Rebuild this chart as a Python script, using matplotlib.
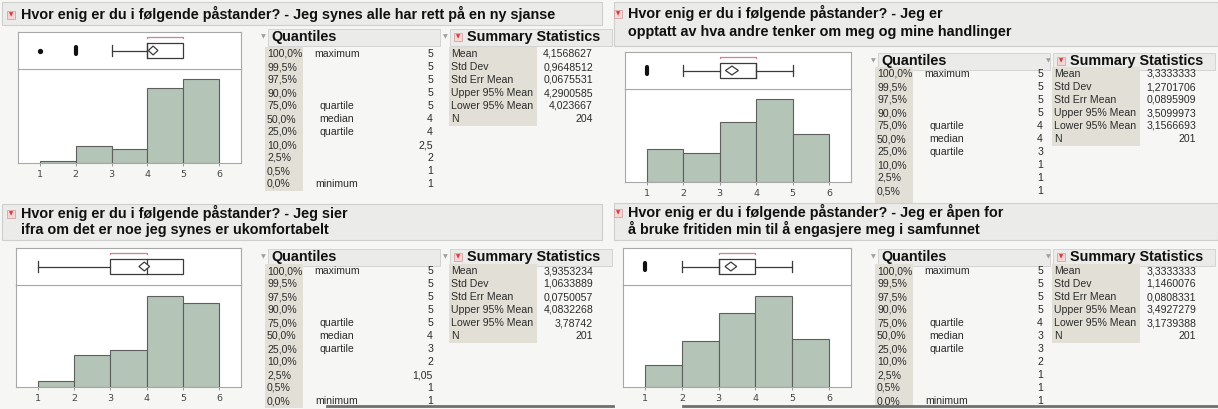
import matplotlib.pyplot as plt
from matplotlib.patches import Rectangle, Polygon

# ---- data ----
titles = [
    "Hvor enig er du i følgende påstander? - Jeg synes alle har rett på en ny sjanse",
    "Hvor enig er du i følgende påstander? - Jeg er\nopptatt av hva andre tenker om meg og mine handlinger",
    "Hvor enig er du i følgende påstander? - Jeg sier\nifra om det er noe jeg synes er ukomfortabelt",
    "Hvor enig er du i følgende påstander? - Jeg er åpen for\nå bruke fritiden min til å engasjere meg i samfunnet",
]
bin_edges = [1, 2, 3, 4, 5, 6]
counts_1 = [2, 18, 15, 80, 89]
counts_2 = [26, 23, 48, 66, 38]
counts_3 = [5, 26, 30, 73, 67]
counts_4 = [16, 33, 53, 65, 34]

pct_labels = ['100,0%', '99,5%', '97,5%', '90,0%', '75,0%', '50,0%',
              '25,0%', '10,0%', '2,5%', '0,5%', '0,0%']
q_names = ['maximum', '', '', '', 'quartile', 'median', 'quartile', '', '', '', 'minimum']
quant_1 = ['5', '5', '5', '5', '5', '4', '4', '2,5', '2', '1', '1']
quant_2 = ['5', '5', '5', '5', '4', '4', '3', '1', '1', '1', '1']
quant_3 = ['5', '5', '5', '5', '5', '4', '3', '2', '1,05', '1', '1']
quant_4 = ['5', '5', '5', '5', '4', '3', '3', '2', '1', '1', '1']

stat_names = ['Mean', 'Std Dev', 'Std Err Mean', 'Upper 95% Mean', 'Lower 95% Mean', 'N']
stats_1 = ['4,1568627', '0,9648512', '0,0675531', '4,2900585', '4,023667', '204']
stats_2 = ['3,3333333', '1,2701706', '0,0895909', '3,5099973', '3,1566693', '201']
stats_3 = ['3,9353234', '1,0633889', '0,0750057', '4,0832268', '3,78742', '201']
stats_4 = ['3,3333333', '1,1460076', '0,0808331', '3,4927279', '3,1739388', '201']

# shortest half (red bracket)
short_half = [(4, 5), (3, 4), (3, 4), (3, 4)]

# ---- layout (pixels) ----
W, H = 1218, 409
FONT = ['Liberation Sans', 'DejaVu Sans']
BAR = '#b4c4b7'
BG = '#f6f6f4'
BAR_BG = '#ebebe9'
SHADE = '#e2e0d6'
TXT = '#2b2b2b'

layouts = [
    dict(title_y=[14], tbar=(2, 2, 602, 25), tx=21, frame=(18, 32, 241, 163), sep=69,
         qx=263, hy=37, row0=54, sx=445, clip=204),
    dict(title_y=[13, 32], tbar=(614, 2, 1218, 46), tx=628, frame=(625, 52, 851, 182), sep=89,
         qx=873, hy=61, row0=74, sx=1048, clip=203),
    dict(title_y=[213, 230], tbar=(2, 204, 602, 240), tx=21, frame=(16, 248, 241, 387), sep=285,
         qx=263, hy=257, row0=271, sx=445, clip=409),
    dict(title_y=[212, 229], tbar=(614, 203, 1218, 240), tx=628, frame=(623, 248, 851, 387), sep=285,
         qx=873, hy=257, row0=271, sx=1048, clip=409),
]
ROW = 13

fig = plt.figure(figsize=(W / 100, H / 100), dpi=100)
fig.patch.set_facecolor(BG)
bg = fig.add_axes([0, 0, 1, 1])
bg.set_xlim(0, W)
bg.set_ylim(H, 0)
bg.axis('off')


def add_ax(x0, y0, x1, y1):
    return fig.add_axes([x0 / W, 1 - y1 / H, (x1 - x0) / W, (y1 - y0) / H])


def num(s):
    return float(s.replace(',', '.'))


def red_icon(x, y):
    bg.text(x, y, '▼', color='#d23b3b', fontsize=4, ha='center', va='center',
            family='DejaVu Sans', zorder=6,
            bbox=dict(boxstyle='square,pad=0.25', fc='#f4d6d6', ec='#d8a3a3', lw=0.6))


def gray_tri(x, y):
    bg.text(x, y, '▼', color='#a0a0a0', fontsize=4.5, ha='center', va='center',
            family='DejaVu Sans', zorder=6)


def row_text(x, y, s, clip, **kw):
    # rows that run under the next panel's title bar are cut off, as in JMP
    if y + 4 > clip:
        return
    bg.text(x, y, s, fontsize=7.6, family=FONT, color=TXT, va='center', zorder=2, **kw)


def draw_panel(L, title, counts, quant, stats, sh):
    # title bar
    x0, y0, x1, y1 = L['tbar']
    bg.add_patch(Rectangle((x0, y0), x1 - x0, y1 - y0, fc=BAR_BG, ec='#cfcfcd', lw=0.8, zorder=5))
    red_icon(L['tx'] - 10, L['title_y'][0] + 1)
    for ty, line in zip(L['title_y'], title.split('\n')):
        bg.text(L['tx'], ty, line, fontsize=10.4, fontweight='bold', family=FONT,
                color='#111111', va='center', ha='left', zorder=6)

    # plot frame: box plot on top, histogram below
    fx0, fy0, fx1, fy1 = L['frame']
    xlim = (0.4, 6.6)
    hax = add_ax(fx0, L['sep'], fx1, fy1)
    bax = add_ax(fx0, fy0, fx1, L['sep'])
    for a in (hax, bax):
        a.set_facecolor('white')
        a.set_xlim(*xlim)
        for s in a.spines.values():
            s.set_color('#a8a8a8')
            s.set_linewidth(0.8)

    hax.bar(bin_edges[:-1], counts, width=1, align='edge', color=BAR,
            edgecolor='#5e5e5e', linewidth=0.8)
    hax.set_ylim(0, max(counts) * 1.12)
    hax.set_yticks([])
    hax.set_xticks(bin_edges)
    hax.set_xticklabels([str(b) for b in bin_edges])
    hax.tick_params(axis='x', length=2.5, width=0.6, color='#888888', pad=2.5,
                    labelsize=6.8, labelcolor='#444444')

    # outlier box plot
    q75, med, q25 = num(quant[4]), num(quant[5]), num(quant[6])
    iqr = q75 - q25
    vals = [v for v, c in zip(bin_edges[:-1], counts) if c > 0]
    inside = [v for v in vals if q25 - 1.5 * iqr <= v <= q75 + 1.5 * iqr]
    wlo, whi = min(inside), max(inside)
    mean, hi95, lo95 = num(stats[0]), num(stats[3]), num(stats[4])
    lc = '#3a3a3a'
    bax.set_ylim(-1, 1)
    bax.set_xticks([])
    bax.set_yticks([])
    if wlo < q25:
        bax.plot([wlo, q25], [0, 0], color=lc, lw=0.9)
        bax.plot([wlo, wlo], [-0.28, 0.28], color=lc, lw=0.9)
    if whi > q75:
        bax.plot([q75, whi], [0, 0], color=lc, lw=0.9)
        bax.plot([whi, whi], [-0.28, 0.28], color=lc, lw=0.9)
    bax.add_patch(Rectangle((q25, -0.4), q75 - q25, 0.8, fc='white', ec=lc, lw=0.9))
    bax.plot([med, med], [-0.4, 0.4], color=lc, lw=0.9)
    bax.add_patch(Polygon([(lo95, 0), (mean, 0.24), (hi95, 0), (mean, -0.24)],
                          closed=True, fc='white', ec=lc, lw=0.9, zorder=3))
    bax.plot([sh[0], sh[0], sh[1], sh[1]], [0.66, 0.74, 0.74, 0.66], color='#e2788a', lw=0.9)
    for v, c in zip(bin_edges[:-1], counts):
        if c > 0 and v not in inside:
            if c < 5:
                bax.plot(v, 0, 'o', ms=2.8, color='#111111')
            else:
                bax.plot([v, v], [-0.17, 0.17], color='#111111', lw=3, solid_capstyle='round')

    # Quantiles table
    qx, hy, r0, clip = L['qx'], L['hy'], L['row0'], L['clip']
    gray_tri(qx, hy)
    bg.add_patch(Rectangle((qx + 5, hy - 8), 172, 17, fc=BAR_BG, ec='#d4d4d2', lw=0.7, zorder=1))
    bg.text(qx + 8, hy, 'Quantiles', fontsize=10.4, fontweight='bold', family=FONT,
            color='#111111', va='center', zorder=2)
    bg.add_patch(Rectangle((qx + 2, r0 - 7), 38, 10 * ROW + 14, fc=SHADE, ec='none', zorder=1))
    for i, (p, nm, v) in enumerate(zip(pct_labels, q_names, quant)):
        y = r0 + i * ROW
        row_text(qx + 4, y, p, clip)
        if nm:
            row_text(qx + 74, y, nm, clip, ha='center')
        row_text(qx + 170, y, v, clip, ha='right')

    # Summary Statistics table
    sx = L['sx']
    gray_tri(sx, hy)
    bg.add_patch(Rectangle((sx + 5, hy - 8), 162, 17, fc=BAR_BG, ec='#d4d4d2', lw=0.7, zorder=1))
    red_icon(sx + 13, hy)
    bg.text(sx + 22, hy, 'Summary Statistics', fontsize=10.4, fontweight='bold', family=FONT,
            color='#111111', va='center', zorder=2)
    bg.add_patch(Rectangle((sx + 4, r0 - 7), 88, 5 * ROW + 14, fc=SHADE, ec='none', zorder=1))
    for i, (nm, v) in enumerate(zip(stat_names, stats)):
        y = r0 + i * ROW
        row_text(sx + 6, y, nm, clip)
        row_text(sx + 148, y, v, clip, ha='right')


all_counts = [counts_1, counts_2, counts_3, counts_4]
all_quant = [quant_1, quant_2, quant_3, quant_4]
all_stats = [stats_1, stats_2, stats_3, stats_4]
for k in range(4):
    draw_panel(layouts[k], titles[k], all_counts[k], all_quant[k], all_stats[k], short_half[k])

# window edge lines at the bottom
bg.plot([327, 613], [406, 406], color='#707070', lw=2, zorder=7)
bg.plot([683, 1218], [406, 406], color='#707070', lw=2, zorder=7)

fig.savefig('out.png', dpi=100, facecolor=fig.get_facecolor())
